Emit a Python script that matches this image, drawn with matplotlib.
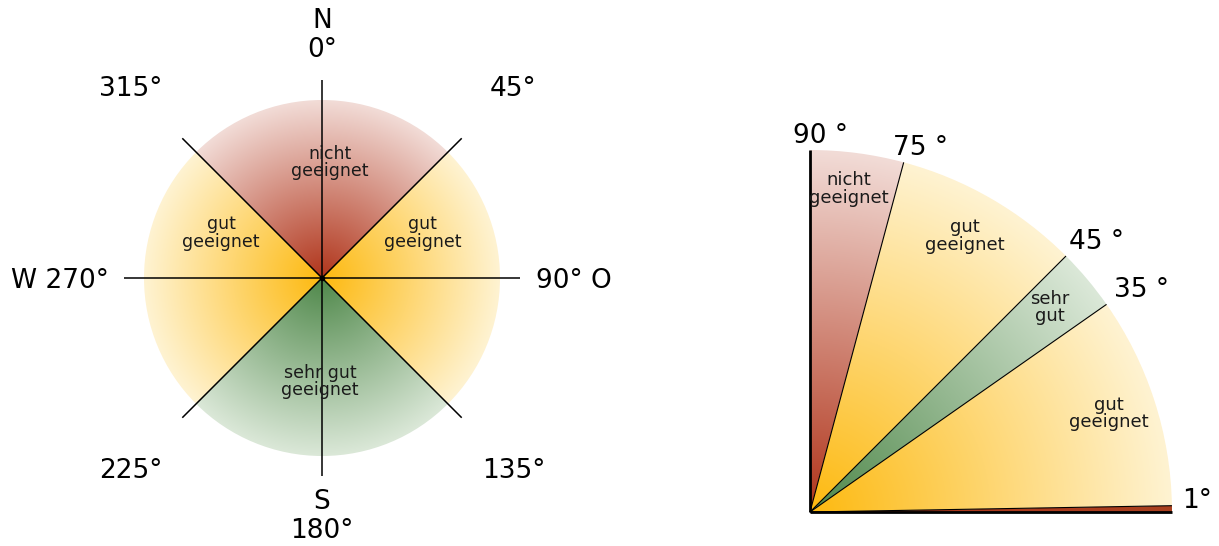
import numpy as np
import matplotlib.pyplot as plt
from matplotlib.patches import Wedge
from matplotlib.colors import to_rgb

# compass wedges, degrees clockwise from north
compass_from = [315, 45, 135, 225]
compass_to = [45, 135, 225, 315]
compass_kind = ["red", "yellow", "green", "yellow"]
compass_text = ["nicht\ngeeignet", "gut\ngeeignet", "sehr gut\ngeeignet", "gut\ngeeignet"]
compass_angles = [0, 45, 90, 135, 180, 225, 270, 315]
compass_labels = ["N\n0°", "45°", "90° O", "135°", "S\n180°", "225°", "W 270°", "315°"]

# tilt wedges, degrees above horizontal
tilt_edges = [0, 1, 35, 45, 75, 90]
tilt_kind = ["rust", "yellow", "green", "yellow", "red"]
tilt_text = ["", "gut\ngeeignet", "sehr\ngut", "gut\ngeeignet", "nicht\ngeeignet"]
tilt_label_angles = [1, 35, 45, 75, 90]
tilt_labels = ["1°", "35 °", "45 °", "75 °", "90 °"]

# inner / outer colour of the radial gradients
GRAD = {
    "red": ("#b0341a", "#f2dcd7"),
    "rust": ("#b0341a", "#a9401f"),
    "yellow": ("#fdb90f", "#fff3d2"),
    "green": ("#4f884a", "#dbe8d8"),
}

W, H = 1219, 546
fig = plt.figure(figsize=(W / 100, H / 100), dpi=100)
ax = fig.add_axes([0, 0, 1, 1])


def gradient_wedge(cx, cy, R, th1, th2, kind):
    w = Wedge((cx, cy), R, th1, th2, facecolor="none", edgecolor="none")
    ax.add_patch(w)
    xs = np.linspace(-1, 1, 500)
    X, Y = np.meshgrid(xs, xs)
    t = np.clip(np.hypot(X, Y), 0, 1)[..., None]
    c0 = np.array(to_rgb(GRAD[kind][0]))
    c1 = np.array(to_rgb(GRAD[kind][1]))
    img = c0 + (c1 - c0) * t
    ax.imshow(img, extent=[cx - R, cx + R, cy - R, cy + R], origin="lower",
              clip_path=w, interpolation="bilinear", zorder=1)


# ---- left: compass ----
cx, cy, R = 322, H - 278, 178
for f, t_, kind, txt in zip(compass_from, compass_to, compass_kind, compass_text):
    th1 = 90 - t_
    th2 = 90 - f
    while th2 <= th1:
        th2 += 360
    gradient_wedge(cx, cy, R, th1, th2, kind)
    mid = (th1 + th2) / 2
    r = 0.62 * R
    dx = 0
    # side wedges carry their label in the upper half
    if abs(np.cos(np.radians(mid))) > 0.9:
        mid += 24 if np.cos(np.radians(mid)) > 0 else -24
    elif np.sin(np.radians(mid)) > 0:
        r, dx = 0.65 * R, 8
    else:
        r, dx = 0.58 * R, -2
    ax.text(cx + dx + r * np.cos(np.radians(mid)), cy + r * np.sin(np.radians(mid)), txt,
            ha="center", va="center", fontsize=12.5, linespacing=0.95,
            color="#1a1a1a", zorder=3)

for a, lab in zip(compass_angles, compass_labels):
    th = np.radians(90 - a)
    L = 1.11 * R
    ax.plot([cx, cx + L * np.cos(th)], [cy, cy + L * np.sin(th)], color="black",
            lw=1.1, zorder=2, solid_capstyle="butt")
    if a % 90 == 0 and a % 180 != 0:
        rl = 1.2 * R
        ha = "left" if a == 90 else "right"
        ax.text(cx + rl * np.cos(th), cy + rl * np.sin(th) - 3, lab, ha=ha,
                va="center", fontsize=19, zorder=3)
    elif a % 180 == 0:
        rl = 1.36 * R if a == 0 else 1.34 * R
        ax.text(cx + rl * np.cos(th), cy + rl * np.sin(th), lab, ha="center",
                va="center", fontsize=19, linespacing=1.15, zorder=3)
    else:
        rl = 1.52 * R
        ax.text(cx + rl * np.cos(th), cy + rl * np.sin(th) - 2, lab, ha="center",
                va="center", fontsize=19, zorder=3)
ax.plot([cx], [cy], "o", color="black", ms=3, zorder=3)

# ---- right: tilt quarter ----
ox, oy, R2 = 810, H - 512, 362
for i, (kind, txt) in enumerate(zip(tilt_kind, tilt_text)):
    a0, a1 = tilt_edges[i], tilt_edges[i + 1]
    gradient_wedge(ox, oy, R2, a0, a1, kind)
    if txt:
        mid = np.radians((a0 + a1) / 2)
        r = 0.9 * R2 if a1 == 90 else 0.88 * R2
        ax.text(ox + r * np.cos(mid) - 4, oy + r * np.sin(mid), txt, ha="center",
                va="center", fontsize=13, linespacing=0.95, color="#1a1a1a", zorder=3)

for a in tilt_edges:
    th = np.radians(a)
    lw = 2.0 if a in (0, 90) else 0.8
    ax.plot([ox, ox + R2 * np.cos(th)], [oy, oy + R2 * np.sin(th)], color="black",
            lw=lw, zorder=2, solid_capstyle="butt")

for a, lab in zip(tilt_label_angles, tilt_labels):
    th = np.radians(a)
    ex, ey = ox + R2 * np.cos(th), oy + R2 * np.sin(th)
    dx = min(-17 + 0.45 * (90 - a), 10)
    dy = 7 if a > 10 else -2
    ax.text(ex + dx, ey + dy, lab, ha="left", va="baseline", fontsize=19, zorder=3)

ax.set_xlim(0, W)
ax.set_ylim(0, H)
ax.set_aspect("equal")
ax.axis("off")
fig.savefig("out.png", dpi=100, facecolor="white")
